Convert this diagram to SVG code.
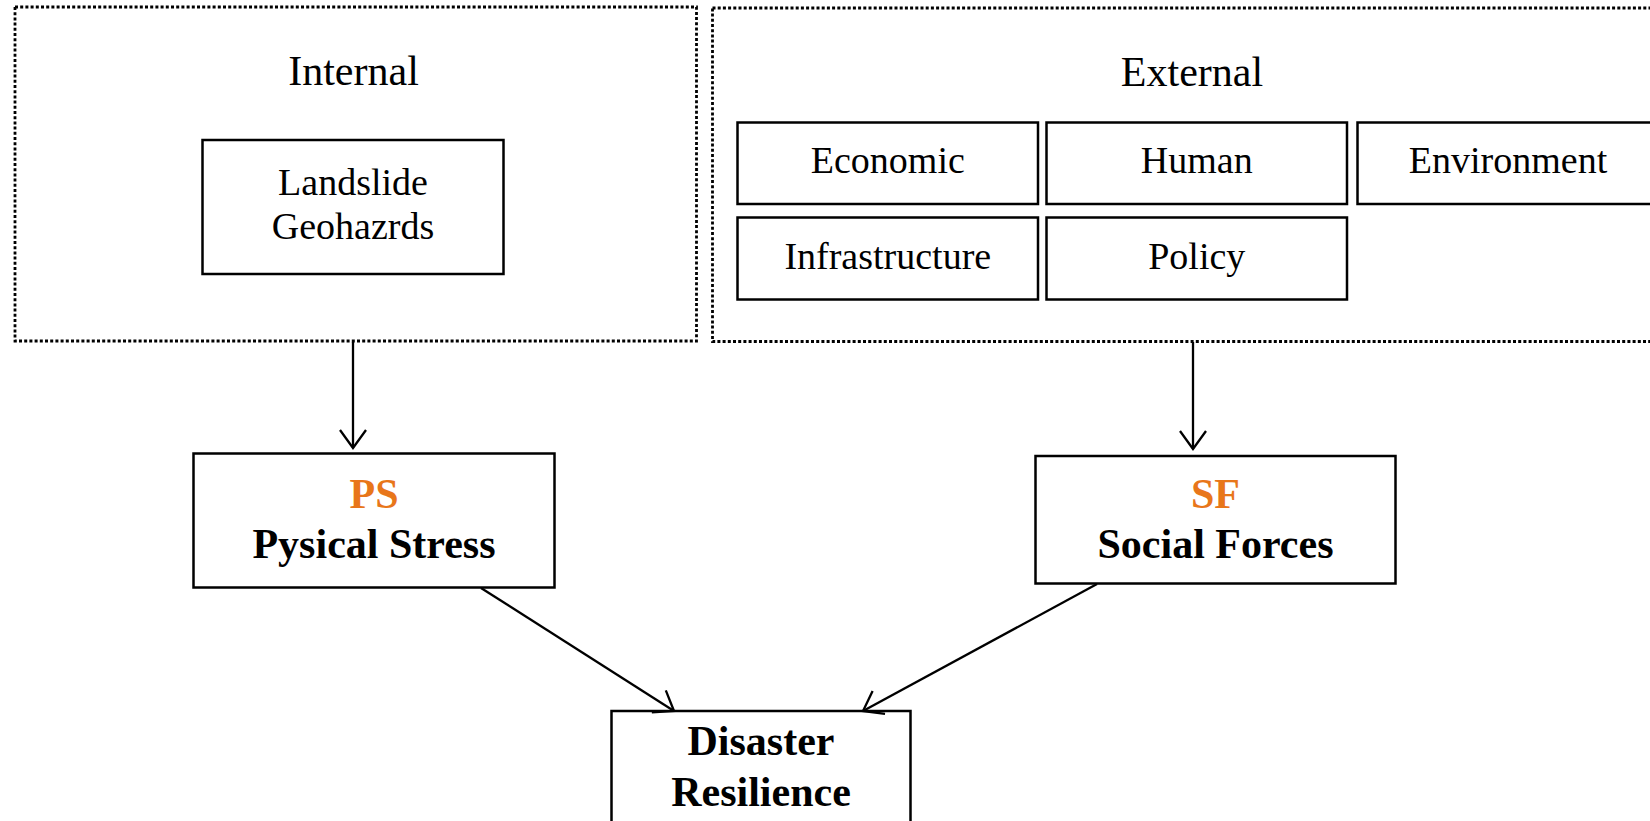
<svg xmlns="http://www.w3.org/2000/svg" width="1650" height="821" viewBox="0 0 1650 821">
<style>
.bg{fill:#fff}
.group{fill:none;stroke:#000;stroke-width:2.8;stroke-dasharray:3 2.2}
.box{fill:#fff;stroke:#000;stroke-width:2.5}
.t{font-family:"Liberation Serif","Times New Roman",serif;font-size:38px;fill:#000;text-anchor:middle}
.h{font-family:"Liberation Serif","Times New Roman",serif;font-size:42px;fill:#000;text-anchor:middle}
.b{font-family:"Liberation Serif","Times New Roman",serif;font-size:42px;font-weight:bold;fill:#000;text-anchor:middle}
.o{fill:#E8761A}
.edge{fill:none;stroke:#000;stroke-width:2.3}
</style>
<defs>
<marker id="arr" markerUnits="userSpaceOnUse" markerWidth="40" markerHeight="40" viewBox="-20 -20 40 40" refX="0" refY="0" orient="auto">
<path d="M-18,-13 L0,0 L-18,13" fill="none" stroke="#000" stroke-width="2.3"/>
</marker>
</defs>
<rect class="bg" x="0" y="0" width="1650" height="821"/>
<g id="internal">
<rect class="group" x="15" y="7" width="681.5" height="334"/>
<text class="h" x="353.5" y="85">Internal</text>
</g>
<g id="landslide">
<rect class="box" x="202.5" y="140" width="301" height="134"/>
<text class="t" x="353" y="195">Landslide</text>
<text class="t" x="353" y="239">Geohazrds</text>
</g>
<g id="external">
<rect class="group" x="712.5" y="8" width="950" height="333.5"/>
<text class="h" x="1192" y="86">External</text>
</g>
<g id="economic">
<rect class="box" x="737.5" y="122.5" width="300.5" height="81.5"/>
<text class="t" x="887.8" y="173">Economic</text>
</g>
<g id="human">
<rect class="box" x="1046.5" y="122.5" width="300.5" height="81.5"/>
<text class="t" x="1196.8" y="173">Human</text>
</g>
<g id="environment">
<rect class="box" x="1357.5" y="122.5" width="300.5" height="81.5"/>
<text class="t" x="1508" y="173">Environment</text>
</g>
<g id="infrastructure">
<rect class="box" x="737.5" y="217.5" width="300.5" height="82"/>
<text class="t" x="887.8" y="269">Infrastructure</text>
</g>
<g id="policy">
<rect class="box" x="1046.5" y="217.5" width="300.5" height="82"/>
<text class="t" x="1196.8" y="269">Policy</text>
</g>
<g id="ps">
<rect class="box" x="193.5" y="453.5" width="361" height="134"/>
<text class="b o" x="374" y="507.5">PS</text>
<text class="b" x="374" y="558">Pysical Stress</text>
</g>
<g id="sf">
<rect class="box" x="1035.5" y="456" width="360" height="127.5"/>
<text class="b o" x="1215.5" y="507.5">SF</text>
<text class="b" x="1215.5" y="557.5">Social Forces</text>
</g>
<g id="dr">
<rect class="box" x="611.5" y="711" width="299" height="130"/>
<text class="b" x="761" y="755">Disaster</text>
<text class="b" x="761" y="806">Resilience</text>
</g>
<g id="connectors">
<line class="edge" x1="353" y1="342" x2="353" y2="448" marker-end="url(#arr)"/>
<line class="edge" x1="1193" y1="342" x2="1193" y2="449" marker-end="url(#arr)"/>
<line class="edge" x1="481" y1="588" x2="674" y2="711" marker-end="url(#arr)"/>
<line class="edge" x1="1097" y1="584" x2="863" y2="711" marker-end="url(#arr)"/>
</g>
</svg>
